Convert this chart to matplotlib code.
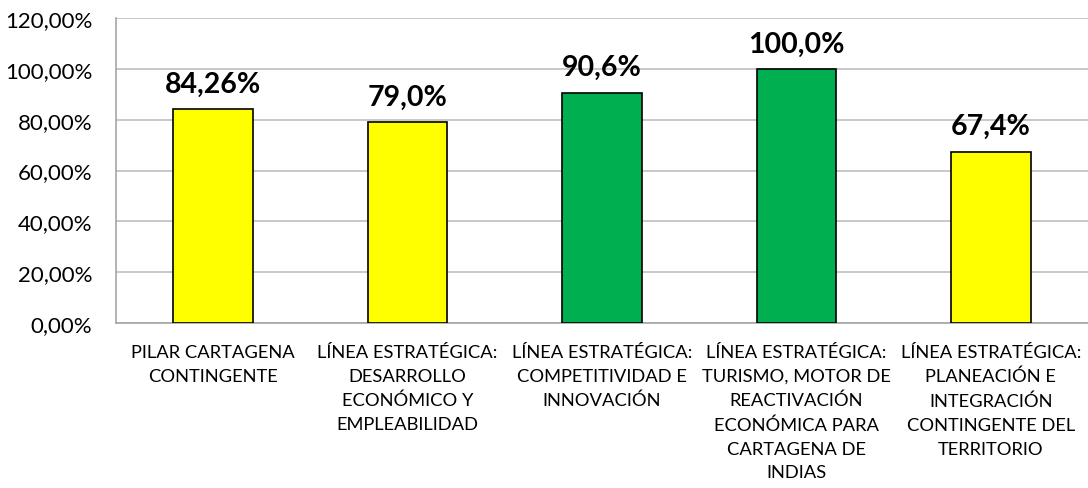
import matplotlib.pyplot as plt
from matplotlib.ticker import FuncFormatter

categories = ['PILAR CARTAGENA\nCONTINGENTE',
              'LÍNEA ESTRATÉGICA:\nDESARROLLO\nECONÓMICO Y\nEMPLEABILIDAD',
              'LÍNEA ESTRATÉGICA:\nCOMPETITIVIDAD E\nINNOVACIÓN',
              'LÍNEA ESTRATÉGICA:\nTURISMO, MOTOR DE\nREACTIVACIÓN\nECONÓMICA PARA\nCARTAGENA DE\nINDIAS',
              'LÍNEA ESTRATÉGICA:\nPLANEACIÓN E\nINTEGRACIÓN\nCONTINGENTE DEL\nTERRITORIO']
values = [84.26, 79.0, 90.6, 100.0, 67.4]
value_labels = ['84,26%', '79,0%', '90,6%', '100,0%', '67,4%']
bar_colors = ['#FFFF00', '#FFFF00', '#00B050', '#00B050', '#FFFF00']

plt.rcParams['font.family'] = ['Lato', 'DejaVu Sans']

fig = plt.figure(figsize=(10.88, 4.89), dpi=100)
ax = fig.add_axes([0.1066, 0.3374, 0.8934, 0.6236])

x = range(len(categories))
ax.bar(x, values, width=0.41, color=bar_colors, edgecolor='black', linewidth=1.2, zorder=3)

for i, v in enumerate(values):
    ax.annotate(value_labels[i], (i, v), xytext=(0, 9), textcoords='offset points',
                ha='center', va='bottom', fontsize=20.5, fontweight='bold')

ax.set_xlim(-0.5, 4.5)
ax.set_ylim(0, 120)
ax.set_yticks(range(0, 121, 20))
ax.yaxis.set_major_formatter(FuncFormatter(lambda v, p: f'{v:.2f}'.replace('.', ',') + '%'))
ax.set_xticks(list(x))
ax.set_xticklabels(categories, fontsize=13.2, linespacing=1.6)
ax.tick_params(axis='x', length=0, pad=15)
ax.tick_params(axis='y', length=0, pad=17, labelsize=16)
ax.grid(axis='y', color='#BFBFBF', linewidth=1.2, zorder=0)

for s in ['top', 'right']:
    ax.spines[s].set_visible(False)
ax.spines['left'].set_color('#A6A6A6')
ax.spines['bottom'].set_color('#A6A6A6')
ax.spines['left'].set_linewidth(1.2)
ax.spines['bottom'].set_linewidth(1.2)

fig.savefig('out.png', dpi=100)
